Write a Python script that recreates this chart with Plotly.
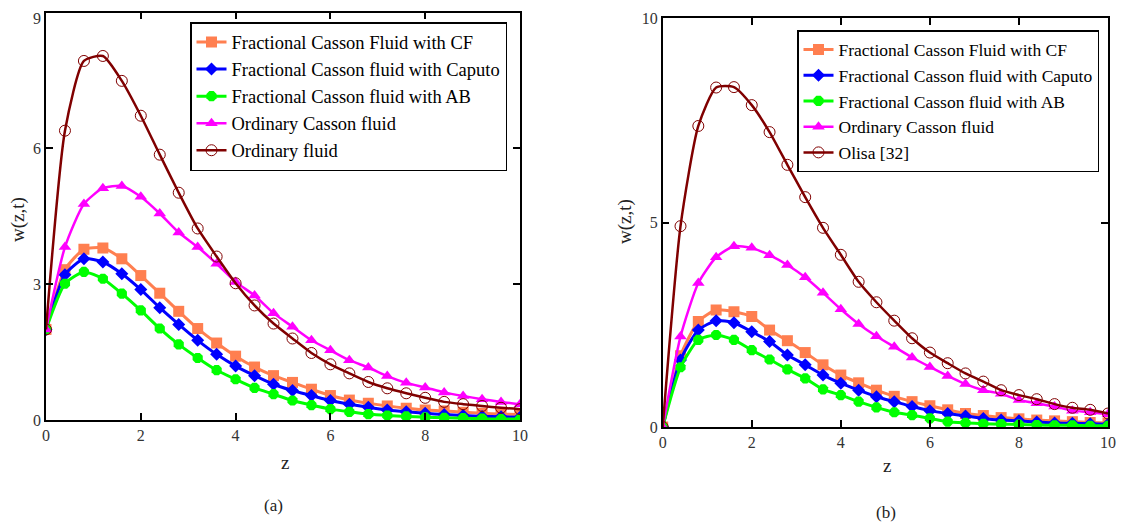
import plotly.graph_objects as go

z = [round(0.4 * i, 1) for i in range(26)]

# Panel (a)
a_cf = [2.0, 3.32, 3.77, 3.80, 3.56, 3.19, 2.80, 2.40, 2.02, 1.70, 1.41, 1.17, 0.98,
        0.83, 0.68, 0.54, 0.44, 0.37, 0.31, 0.26, 0.22, 0.20, 0.17, 0.15, 0.13, 0.12]
a_caputo = [2.0, 3.21, 3.56, 3.49, 3.23, 2.88, 2.48, 2.11, 1.76, 1.45, 1.19, 0.98, 0.79,
            0.65, 0.54, 0.43, 0.35, 0.28, 0.22, 0.18, 0.15, 0.12, 0.10, 0.08, 0.07, 0.06]
a_ab = [2.0, 3.01, 3.27, 3.12, 2.79, 2.42, 2.02, 1.67, 1.37, 1.10, 0.90, 0.71, 0.57,
        0.43, 0.33, 0.24, 0.18, 0.13, 0.10, 0.08, 0.06, 0.05, 0.04, 0.03, 0.02, 0.02]
a_casson = [2.0, 3.82, 4.77, 5.12, 5.17, 4.93, 4.56, 4.14, 3.82, 3.45, 3.05, 2.75, 2.36,
            2.06, 1.76, 1.54, 1.32, 1.16, 0.97, 0.82, 0.72, 0.61, 0.53, 0.46, 0.40, 0.35]
a_ordinary = [2.0, 6.39, 7.93, 8.04, 7.49, 6.72, 5.86, 5.02, 4.23, 3.61, 3.02, 2.53, 2.13,
              1.80, 1.48, 1.23, 1.03, 0.84, 0.70, 0.59, 0.49, 0.40, 0.35, 0.31, 0.27, 0.24]

# Panel (b)
b_cf = [0.0, 1.74, 2.58, 2.86, 2.82, 2.70, 2.37, 2.11, 1.82, 1.52, 1.27, 1.08, 0.90,
        0.75, 0.62, 0.52, 0.42, 0.33, 0.28, 0.23, 0.20, 0.17, 0.15, 0.13, 0.11, 0.10]
b_caputo = [0.0, 1.64, 2.37, 2.60, 2.55, 2.33, 2.09, 1.76, 1.52, 1.27, 1.07, 0.90, 0.74,
            0.62, 0.50, 0.40, 0.33, 0.27, 0.21, 0.17, 0.15, 0.12, 0.10, 0.09, 0.08, 0.07]
b_ab = [0.0, 1.46, 2.13, 2.25, 2.13, 1.88, 1.65, 1.41, 1.19, 0.92, 0.78, 0.62, 0.48,
        0.36, 0.29, 0.21, 0.13, 0.10, 0.08, 0.07, 0.06, 0.05, 0.04, 0.04, 0.03, 0.03]
b_casson = [0.0, 2.21, 3.52, 4.15, 4.42, 4.38, 4.20, 3.96, 3.66, 3.28, 2.88, 2.52, 2.22,
            1.96, 1.70, 1.47, 1.25, 1.05, 0.90, 0.81, 0.66, 0.58, 0.50, 0.40, 0.36, 0.31]
b_olisa = [0.0, 4.91, 7.36, 8.30, 8.31, 7.87, 7.21, 6.41, 5.62, 4.87, 4.21, 3.55, 3.05,
           2.60, 2.17, 1.82, 1.56, 1.31, 1.11, 0.90, 0.78, 0.68, 0.56, 0.47, 0.42, 0.33]

names_a = ["Fractional Casson Fluid with CF", "Fractional Casson fluid with Caputo",
           "Fractional Casson fluid with AB", "Ordinary Casson fluid", "Ordinary fluid"]
names_b = ["Fractional Casson Fluid with CF", "Fractional Casson fluid with Caputo",
           "Fractional Casson fluid with AB", "Ordinary Casson fluid", "Olisa [32]"]

ya_ticks = [0, 3, 6]      # y ticks of panel (a) below the top edge
ya_top_label = "9"        # top y tick label of panel (a)

styles = [
    dict(color="#FF7F50", symbol="square", size=11, width=3, fill=True),
    dict(color="#0000FF", symbol="diamond", size=10, width=3, fill=True),
    dict(color="#00FF00", symbol="octagon", size=11, width=3, fill=True),
    dict(color="#FF00FF", symbol="triangle-up", size=11, width=2.5, fill=True),
    dict(color="#800000", symbol="circle-open", size=11, width=2.5, fill=False),
]

FONT = "'Liberation Serif', 'Times New Roman', 'DejaVu Serif', serif"
fig = go.Figure()

def add(series, names, xa, ya, leg):
    for s, n, st in zip(series, names, styles):
        fig.add_trace(go.Scatter(
            x=z, y=s, name=n, mode="lines+markers",
            line=dict(color=st["color"], width=st["width"], shape="spline", smoothing=0.6),
            marker=dict(symbol=st["symbol"], size=st["size"], color=st["color"],
                        line=dict(width=1 if not st["fill"] else 0, color=st["color"])),
            xaxis=xa, yaxis=ya, legend=leg,
        ))

add([a_cf, a_caputo, a_ab, a_casson, a_ordinary], names_a, "x", "y", "legend")
add([b_cf, b_caputo, b_ab, b_casson, b_olisa], names_b, "x2", "y2", "legend2")

# page has an 8px body margin; figure sized to fit the window
OFF = 8
W, H = 1125 - OFF, 527 - OFF


def px(xp):
    return (xp - OFF) / W


def py(yp):
    return 1 - (yp - OFF) / H


TICKFONT = dict(family=FONT, size=16, color="#333333")
axis_common = dict(showline=True, linecolor="black", linewidth=1.5, mirror="ticks",
                   ticks="inside", ticklen=7, tickwidth=1.5, tickcolor="black",
                   showgrid=False, zeroline=False, automargin=False,
                   ticklabeloverflow="allow", tickfont=TICKFONT)

fig.update_layout(
    width=W, height=H,
    margin=dict(l=0, r=0, t=0, b=0, autoexpand=False),
    paper_bgcolor="white", plot_bgcolor="white",
    font=dict(family=FONT, color="black"),
    xaxis=dict(domain=[px(46), px(520)], range=[0, 10], dtick=2, anchor="y", **axis_common),
    yaxis=dict(domain=[py(420), py(12.5)], range=[0, 9], tickvals=ya_ticks, anchor="x", **axis_common),
    xaxis2=dict(domain=[px(662.7), px(1108)], range=[0, 10], dtick=2, anchor="y2", **axis_common),
    yaxis2=dict(domain=[py(427), py(18)], range=[0, 10], dtick=5, anchor="x2", **axis_common),
    legend=dict(x=px(190), y=py(22), xanchor="left", yanchor="top",
                bordercolor="black", borderwidth=1.5, bgcolor="white",
                font=dict(family=FONT, size=18.5, color="black"), tracegroupgap=0),
    legend2=dict(x=px(797), y=py(30), xanchor="left", yanchor="top",
                 bordercolor="black", borderwidth=1.5, bgcolor="white",
                 font=dict(family=FONT, size=17.5, color="black"), tracegroupgap=0),
    showlegend=True,
)

# top tick label of panel (a), kept inside the page
fig.add_annotation(xref="paper", yref="paper", x=px(43), y=1, xanchor="right", yanchor="top",
                   text=ya_top_label, showarrow=False, font=TICKFONT)

ann = [
    dict(text="z", x=px(285), y=py(462), size=19),
    dict(text="z", x=px(887), y=py(465), size=19),
    dict(text="w(z,t)", x=px(18), y=py(220), textangle=-90, size=19),
    dict(text="w(z,t)", x=px(625), y=py(222), textangle=-90, size=19),
    dict(text="(a)", x=px(273), y=py(505), size=17),
    dict(text="(b)", x=px(886), y=py(512), size=17),
]
for a in ann:
    sz = a.pop("size")
    fig.add_annotation(xref="paper", yref="paper", xanchor="center", yanchor="middle",
                       showarrow=False, font=dict(family=FONT, size=sz, color="#222222"), **a)

fig.write_html("out.html")
